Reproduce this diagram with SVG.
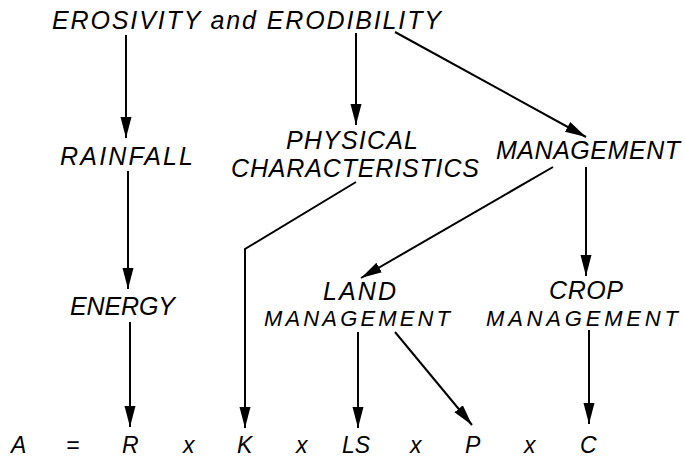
<svg xmlns="http://www.w3.org/2000/svg" width="684" height="457" viewBox="0 0 684 457">
<style>
text { font-family: "Liberation Sans", Arial, sans-serif; font-style: italic; fill: #000; font-size: 25px; }
.eq { font-size: 23px; }
.sm { font-size: 22px; }
.con { stroke: #000; stroke-width: 2; fill: none; }
</style>
<defs>
<marker id="ah" markerUnits="userSpaceOnUse" markerWidth="22" markerHeight="12" refX="21" refY="6" orient="auto">
<path d="M0,0.5 L21,6 L0,11.5 z" fill="#000"/>
</marker>
</defs>
<rect width="684" height="457" fill="#fff"/>
<g id="connectors">
<line class="con" x1="126" y1="35" x2="126" y2="138" marker-end="url(#ah)"/>
<line class="con" x1="356" y1="33" x2="356" y2="125" marker-end="url(#ah)"/>
<line class="con" x1="395" y1="32" x2="586" y2="137" marker-end="url(#ah)"/>
<line class="con" x1="128" y1="171" x2="128" y2="289" marker-end="url(#ah)"/>
<polyline class="con" points="356,182 245,249 245,428" marker-end="url(#ah)"/>
<line class="con" x1="553" y1="167" x2="361" y2="278" marker-end="url(#ah)"/>
<line class="con" x1="586" y1="167" x2="586" y2="276" marker-end="url(#ah)"/>
<line class="con" x1="130" y1="322" x2="130" y2="427" marker-end="url(#ah)"/>
<line class="con" x1="358" y1="332" x2="358" y2="428" marker-end="url(#ah)"/>
<line class="con" x1="395" y1="332" x2="472" y2="425" marker-end="url(#ah)"/>
<line class="con" x1="589" y1="330" x2="589" y2="424" marker-end="url(#ah)"/>
</g>
<g id="erosivity">
<text x="52" y="29" textLength="389" lengthAdjust="spacing">EROSIVITY and ERODIBILITY</text>
</g>
<g id="rainfall">
<text x="60" y="165" textLength="133" lengthAdjust="spacing">RAINFALL</text>
</g>
<g id="physical">
<text x="286" y="149" textLength="132" lengthAdjust="spacing">PHYSICAL</text>
<text x="231" y="177" textLength="248" lengthAdjust="spacing">CHARACTERISTICS</text>
</g>
<g id="management">
<text x="496" y="159" textLength="184" lengthAdjust="spacing">MANAGEMENT</text>
</g>
<g id="energy">
<text x="70" y="315" textLength="105" lengthAdjust="spacing">ENERGY</text>
</g>
<g id="land-management">
<text x="323" y="300" textLength="73" lengthAdjust="spacing">LAND</text>
<text class="sm" x="264" y="326" textLength="186" lengthAdjust="spacing">MANAGEMENT</text>
</g>
<g id="crop-management">
<text x="549" y="299" textLength="74" lengthAdjust="spacing">CROP</text>
<text class="sm" x="486" y="326" textLength="192" lengthAdjust="spacing">MANAGEMENT</text>
</g>
<g id="equation">
<text class="eq" x="11" y="453">A</text>
<text class="eq" x="66" y="453">=</text>
<text class="eq" x="122" y="453">R</text>
<text class="eq" x="183" y="453">x</text>
<text class="eq" x="237" y="453">K</text>
<text class="eq" x="296" y="453">x</text>
<text class="eq" x="342" y="453">LS</text>
<text class="eq" x="410" y="453">x</text>
<text class="eq" x="465" y="453">P</text>
<text class="eq" x="524" y="453">x</text>
<text class="eq" x="580" y="453">C</text>
</g>
</svg>
